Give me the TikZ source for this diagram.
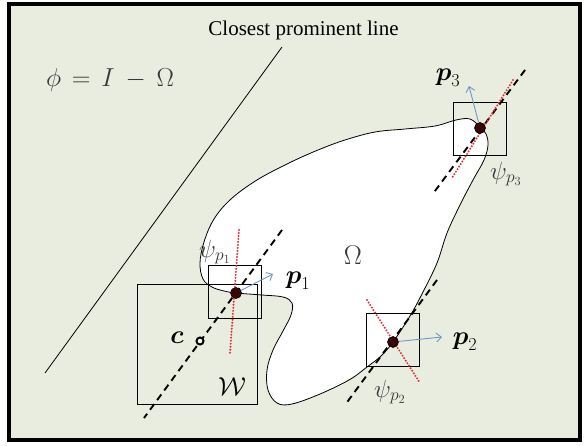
\RequirePackage{fix-cm}
\documentclass[tikz,border=0pt]{standalone}
\usepackage{amsmath}
\usepackage{fontspec}
\newfontfamily\titlefont{Liberation Serif}
\usetikzlibrary{arrows.meta}

\begin{document}
\begin{tikzpicture}[x=1pt,y=-1pt,
  finestra/.style={draw=black, line width=0.9pt, minimum size=53pt, inner sep=0pt},
  punto/.style={circle, draw=black, fill=puntoScuro, line width=0.6pt, minimum size=11pt, inner sep=0pt},
  centro/.style={circle, draw=black, fill=white, line width=2pt, minimum size=7pt, inner sep=0pt},
  tratteggio/.style={line width=1.9pt, dash pattern=on 7pt off 5pt},
  puntini/.style={draw=rossoPunti, line width=2.2pt, line cap=round, dash pattern=on 0pt off 3pt},
  normale/.style={draw=bluFreccia, line width=0.9pt, -{Straight Barb[length=5pt,width=9pt]}},
  etichetta/.style={font=\fontsize{25}{29}\selectfont, inner sep=0pt}]

% Colori
\definecolor{sfondo}{HTML}{E9EDDF}
\definecolor{rossoPunti}{HTML}{E0303C}
\definecolor{bluFreccia}{HTML}{6F96C8}
\definecolor{grigioTesto}{HTML}{383838}
\definecolor{puntoScuro}{HTML}{3A0505}

% Cornice
\useasboundingbox (0,0) rectangle (584,445);
\draw[line width=3.5pt, fill=sfondo] (9,4) rectangle (580,440);

% Titolo
\node[font=\titlefont\fontsize{21}{24}\selectfont, anchor=base, inner sep=0pt] (titolo) at (303.5,35) {Closest prominent line};

% Linea prominente piu' vicina
\coordinate (lineaA) at (282,47);
\coordinate (lineaB) at (45,373);
\draw[line width=0.8pt] (lineaA) -- (lineaB);

% Formula
\node[etichetta, text=grigioTesto, font=\fontsize{26}{30}\selectfont] (formula) at (110,80) {$\phi\mkern7.5mu{=}\mkern7.5mu I\mkern7.5mu{-}\mkern7.5mu\Omega$};

% Regione Omega
\draw[line width=0.8pt, fill=white] plot[smooth cycle, tension=0.6] coordinates {
  (236,293) (262,295) (283,297) (292,303) (291,315) (283,331) (273,350)
  (267,370) (268,390) (277,403) (292,404) (320,394) (349,380) (367,367)
  (381,356) (393,342) (410,316) (423,292) (437,263) (447,233) (460,205)
  (473,180) (484,160) (488,145) (486,134) (480,127) (470,119) (456,120)
  (435,126) (405,129) (375,132) (345,140) (318,150) (289,163) (257,180)
  (231,199) (214,219) (204,242) (200,263) (203,279) (212,287) (224,291)};

% Finestre
\node[finestra, minimum size=120pt] (W) at (197,344) {};
\node[finestra] (w1) at (235,292) {};
\node[finestra] (w2) at (393,339.5) {};
\node[finestra] (w3) at (480,128.5) {};

% Linee tratteggiate
\coordinate (d1a) at (282,230);
\coordinate (d1b) at (144,418);
\coordinate (d2a) at (437,280);
\coordinate (d2b) at (345,405);
\coordinate (d3a) at (525,70);
\coordinate (d3b) at (432,195);
\draw[tratteggio] (d1a) -- (d1b);
\draw[tratteggio] (d2a) -- (d2b);
\draw[tratteggio] (d3a) -- (d3b);

% Etichette psi
\node[etichetta, text=grigioTesto] (psi1) at (215,252) {$\psi_{p_1}$};
\node[etichetta, text=grigioTesto] (psi2) at (390,392) {$\psi_{p_2}$};
\node[etichetta, text=grigioTesto] (psi3) at (506,174) {$\psi_{p_3}$};

% Linee rosse
\coordinate (r1a) at (239,230);
\coordinate (r1b) at (230,353);
\coordinate (r2a) at (367,300);
\coordinate (r2b) at (420,383);
\coordinate (r3a) at (513,80);
\coordinate (r3b) at (452,178);
\draw[puntini] (r1a) -- (r1b);
\draw[puntini] (r2a) -- (r2b);
\draw[puntini] (r3a) -- (r3b);

% Punti
\node[punto] (p1) at (236,293) {};
\node[punto] (p2) at (393,342) {};
\node[punto] (p3) at (480,128) {};
\node[centro] (c) at (200,341) {};

% Normali
\coordinate (n1) at (273,274);
\coordinate (n2) at (442,337);
\coordinate (n3) at (469,86);
\draw[normale] (p1) -- (n1);
\draw[normale] (p2) -- (n2);
\draw[normale] (p3) -- (n3);

% Etichette
\node[etichetta, font=\fontsize{26}{30}\selectfont] (lp1) at (298,281) {$\boldsymbol{p}_1$};
\node[etichetta, font=\fontsize{26}{30}\selectfont] (lp2) at (465,342) {$\boldsymbol{p}_2$};
\node[etichetta, font=\fontsize{26}{30}\selectfont] (lp3) at (448,78) {$\boldsymbol{p}_3$};
\node[etichetta, font=\fontsize{26}{30}\selectfont] (lc) at (177,338) {$\boldsymbol{c}$};
\node[etichetta, text=grigioTesto, font=\fontsize{27}{31}\selectfont] (omega) at (353,255) {$\Omega$};
\node[etichetta, font=\fontsize{26}{30}\selectfont] (lW) at (232,387) {$\mathcal{W}$};

\end{tikzpicture}
\end{document}
